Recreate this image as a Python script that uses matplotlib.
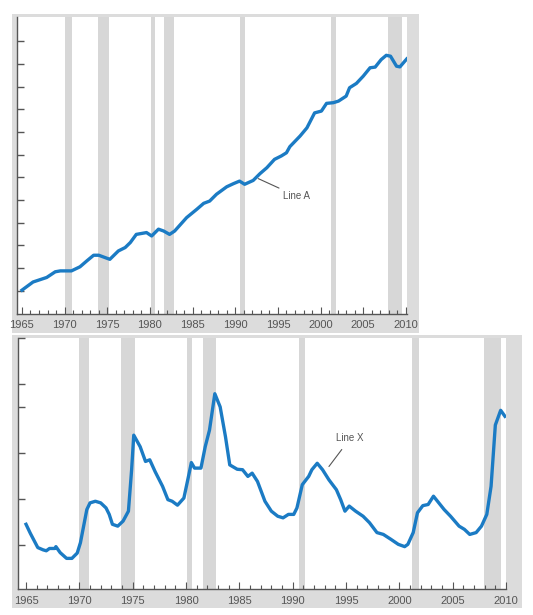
import matplotlib
matplotlib.use("Agg")
import matplotlib.pyplot as plt
from matplotlib.patches import Rectangle
from matplotlib.ticker import MultipleLocator

plt.rcParams['font.family'] = ['Liberation Sans Narrow', 'Liberation Sans', 'DejaVu Sans']

# recessions (shaded bands)
rec_start = [1970.0, 1973.9, 1980.1, 1981.6, 1990.6, 2001.2, 2007.9]
rec_end = [1970.9, 1975.2, 1980.55, 1982.8, 1991.2, 2001.8, 2009.5]

# Line A (top panel, arbitrary units = tick steps)
years_a = [1965.0, 1966.3, 1967.9, 1968.9, 1969.5, 1970.8, 1971.8, 1972.6, 1973.4, 1974.0,
           1975.3, 1976.3, 1977.1, 1977.7, 1978.4, 1979.6, 1980.2, 1981.0, 1981.6, 1982.3,
           1982.9, 1984.3, 1985.5, 1986.3, 1987.0, 1987.8, 1989.0, 1989.8, 1990.5, 1991.1,
           1992.1, 1992.9, 1993.7, 1994.6, 1995.4, 1996.0, 1996.4, 1997.6, 1998.4, 1999.3,
           2000.1, 2000.7, 2001.5, 2002.1, 2003.0, 2003.4, 2004.2, 2005.0, 2005.8, 2006.4,
           2007.1, 2007.7, 2008.2, 2008.9, 2009.3, 2010.1]
line_a = [1.03, 1.39, 1.59, 1.84, 1.88, 1.88, 2.06, 2.32, 2.57, 2.57,
          2.39, 2.76, 2.91, 3.13, 3.49, 3.57, 3.42, 3.72, 3.64, 3.49,
          3.64, 4.23, 4.60, 4.86, 4.96, 5.26, 5.59, 5.73, 5.84, 5.70,
          5.87, 6.17, 6.43, 6.80, 6.95, 7.09, 7.36, 7.83, 8.19, 8.85,
          8.93, 9.27, 9.30, 9.37, 9.59, 9.96, 10.15, 10.47, 10.84, 10.87,
          11.20, 11.39, 11.35, 10.91, 10.88, 11.23]

# Line X (bottom panel)
years_x = [1965.0, 1965.4, 1966.1, 1966.6, 1966.9, 1967.2, 1967.7, 1967.8, 1968.2, 1968.8,
           1969.3, 1969.8, 1970.1, 1970.4, 1970.7, 1971.0, 1971.5, 1972.0, 1972.5, 1972.8,
           1973.1, 1973.6, 1974.1, 1974.6, 1974.9, 1975.1, 1975.7, 1976.2, 1976.6, 1977.1,
           1977.8, 1978.3, 1978.7, 1979.2, 1979.8, 1980.2, 1980.5, 1980.8, 1981.4, 1981.8,
           1982.2, 1982.7, 1983.2, 1983.7, 1984.1, 1984.8, 1985.3, 1985.8, 1986.2, 1986.7,
           1987.4, 1988.0, 1988.6, 1989.1, 1989.6, 1990.1, 1990.4, 1990.9, 1991.5, 1991.8,
           1992.3, 1992.8, 1993.4, 1994.1, 1994.5, 1994.9, 1995.3, 1995.9, 1996.6, 1997.2,
           1997.9, 1998.5, 1999.2, 1999.9, 2000.5, 2000.8, 2001.3, 2001.7, 2002.2, 2002.7,
           2003.2, 2003.7, 2004.2, 2004.8, 2005.6, 2006.1, 2006.6, 2007.2, 2007.7, 2008.2,
           2008.6, 2009.0, 2009.5, 2009.9]
line_x = [4.91, 4.52, 3.90, 3.80, 3.76, 3.86, 3.86, 3.94, 3.68, 3.43,
          3.43, 3.66, 4.11, 4.83, 5.55, 5.84, 5.91, 5.84, 5.62, 5.34,
          4.91, 4.83, 5.05, 5.48, 7.28, 8.78, 8.28, 7.64, 7.71, 7.20,
          6.56, 5.98, 5.91, 5.74, 6.05, 6.92, 7.59, 7.35, 7.35, 8.28,
          9.00, 10.58, 10.01, 8.71, 7.49, 7.30, 7.28, 6.99, 7.13, 6.77,
          5.91, 5.48, 5.26, 5.19, 5.34, 5.34, 5.62, 6.63, 6.99, 7.28,
          7.56, 7.28, 6.84, 6.41, 5.98, 5.48, 5.70, 5.48, 5.26, 4.98,
          4.55, 4.47, 4.26, 4.04, 3.94, 4.04, 4.55, 5.41, 5.72, 5.77,
          6.13, 5.84, 5.55, 5.26, 4.83, 4.69, 4.47, 4.55, 4.83, 5.34,
          6.56, 9.22, 9.86, 9.60]

top_yticks = list(range(1, 13))
bottom_yticks = [4, 6, 8, 10, 11, 13]
year_labels = list(range(1965, 2011, 5))

W, H = 533, 615
BLUE = '#1b7bc4'
BAND = '#d7d7d7'
FRAME = '#dcdcdc'
AXC = '#555555'

fig = plt.figure(figsize=(W / 100, H / 100), dpi=100)
fig.patch.set_facecolor('white')


def px_rect(x0, y0, x1, y1):
    return [x0 / W, 1 - y1 / H, (x1 - x0) / W, (y1 - y0) / H]


# grey frames behind the panels
for x0, y0, x1, y1 in [(12, 14, 419, 333), (12, 335, 522, 608)]:
    r = px_rect(x0, y0, x1, y1)
    fig.patches.append(Rectangle((r[0], r[1]), r[2], r[3], transform=fig.transFigure,
                                 facecolor=FRAME, edgecolor='none', zorder=-5))

ax1 = fig.add_axes(px_rect(16.5, 17, 407, 313.5))
ax2 = fig.add_axes(px_rect(17.5, 338, 506, 589))


def style(ax, xlim, ylim, yticks):
    ax.set_zorder(2)
    ax.set_facecolor('white')
    ax.set_xlim(*xlim)
    ax.set_ylim(*ylim)
    for s in ['top', 'right']:
        ax.spines[s].set_visible(False)
    for s in ['left', 'bottom']:
        ax.spines[s].set_color(AXC)
        ax.spines[s].set_linewidth(1.0)
    ax.set_xticks(year_labels)
    ax.set_xticklabels([str(y) for y in year_labels])
    ax.xaxis.set_minor_locator(MultipleLocator(1))
    ax.set_yticks(yticks)
    ax.set_yticklabels([])
    ax.tick_params(axis='x', which='major', direction='in', length=5, width=0.8,
                   color=AXC, labelsize=8, labelcolor='#555555', pad=5)
    ax.tick_params(axis='x', which='minor', direction='in', length=3, width=0.8, color=AXC)
    ax.tick_params(axis='y', which='major', direction='in', length=5, width=1.0, color=AXC)
    for s, e in zip(rec_start, rec_end):
        ax.axvspan(s, e, color=BAND, lw=0, zorder=0.5)


style(ax1, (1964.36, 2010.13), (0, 13.08), top_yticks)
ax1.plot(years_a, line_a, color=BLUE, lw=2.4, solid_joinstyle='round', zorder=3)
ax1.annotate('Line A', xy=(1992.7, 5.95), xytext=(1995.6, 5.18),
             fontsize=7, color='#555555', va='center', ha='left',
             arrowprops=dict(arrowstyle='-', color='#555555', lw=0.8,
                             shrinkA=1, shrinkB=0))

style(ax2, (1964.2, 2010.0), (2.1, 13.0), bottom_yticks)
ax2.plot(years_x, line_x, color=BLUE, lw=2.4, solid_joinstyle='round', zorder=3)
ax2.annotate('Line X', xy=(1993.4, 7.42), xytext=(1994.1, 8.64),
             fontsize=7, color='#555555', va='center', ha='left',
             arrowprops=dict(arrowstyle='-', color='#555555', lw=0.8,
                             shrinkA=3, shrinkB=0))

fig.savefig('out.png', dpi=100)
